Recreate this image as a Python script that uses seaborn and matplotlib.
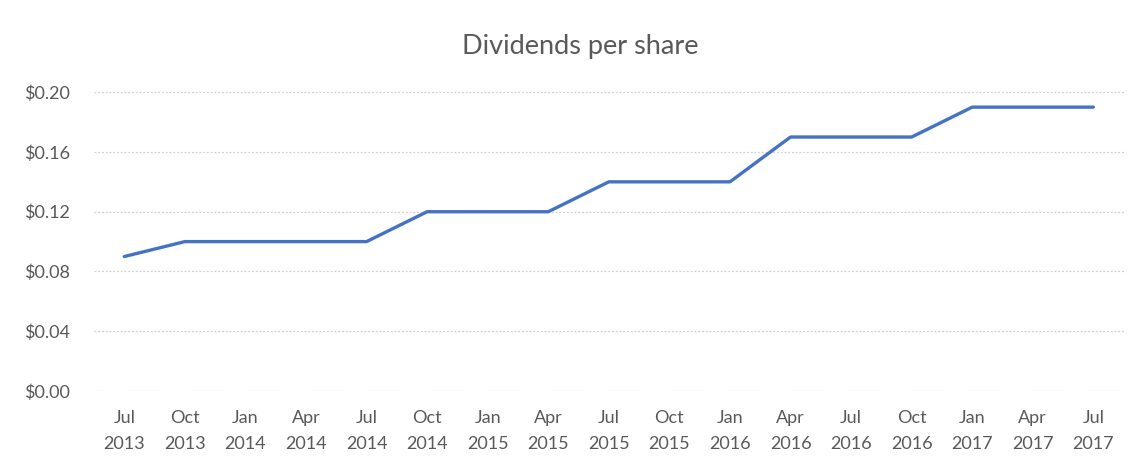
import matplotlib
matplotlib.use("Agg")
import matplotlib.pyplot as plt
import seaborn as sns
import pandas as pd
from matplotlib.ticker import FuncFormatter

# data
months = ["Jul", "Oct", "Jan", "Apr", "Jul", "Oct", "Jan", "Apr", "Jul",
          "Oct", "Jan", "Apr", "Jul", "Oct", "Jan", "Apr", "Jul"]
years = ["2013", "2013", "2014", "2014", "2014", "2014", "2015", "2015", "2015",
         "2015", "2016", "2016", "2016", "2016", "2017", "2017", "2017"]
dividends = [0.09, 0.10, 0.10, 0.10, 0.10, 0.12, 0.12, 0.12, 0.14,
             0.14, 0.14, 0.17, 0.17, 0.17, 0.19, 0.19, 0.19]

df = pd.DataFrame({
    "period": [f"{m}\n{y}" for m, y in zip(months, years)],
    "dividend": dividends,
})

sns.set_style("white")
plt.rcParams["font.family"] = ["Lato", "DejaVu Sans"]

fig = plt.figure(figsize=(11.35, 4.61), dpi=100)
ax = fig.add_axes([0.0828, 0.1518, 0.9072, 0.6482])

sns.lineplot(data=df, x="period", y="dividend", ax=ax, color="#4472C4",
             linewidth=2.4, sort=False)

n = len(df)
ax.set_xlim(-0.5, n - 0.5)
ax.set_ylim(0, 0.20)
ax.set_yticks([0.00, 0.04, 0.08, 0.12, 0.16, 0.20])
ax.yaxis.set_major_formatter(FuncFormatter(lambda v, p: f"${v:.2f}"))
ax.grid(axis="y", color="#d0d0d0", linestyle=(0, (1.5, 1.5)), linewidth=0.9)
ax.set_axisbelow(True)
for s in ax.spines.values():
    s.set_visible(False)
ax.tick_params(axis="both", length=0, labelsize=13, colors="#595959")
ax.tick_params(axis="x", pad=14)
ax.tick_params(axis="y", pad=50)
for lbl in ax.get_yticklabels():
    lbl.set_horizontalalignment("left")
for lbl in ax.get_xticklabels():
    lbl.set_linespacing(1.7)
ax.set_xlabel("")
ax.set_ylabel("")

fig.text(0.511, 0.9, "Dividends per share", ha="center", va="center",
         fontsize=19.5, color="#595959")

fig.savefig("out.png", dpi=100)
